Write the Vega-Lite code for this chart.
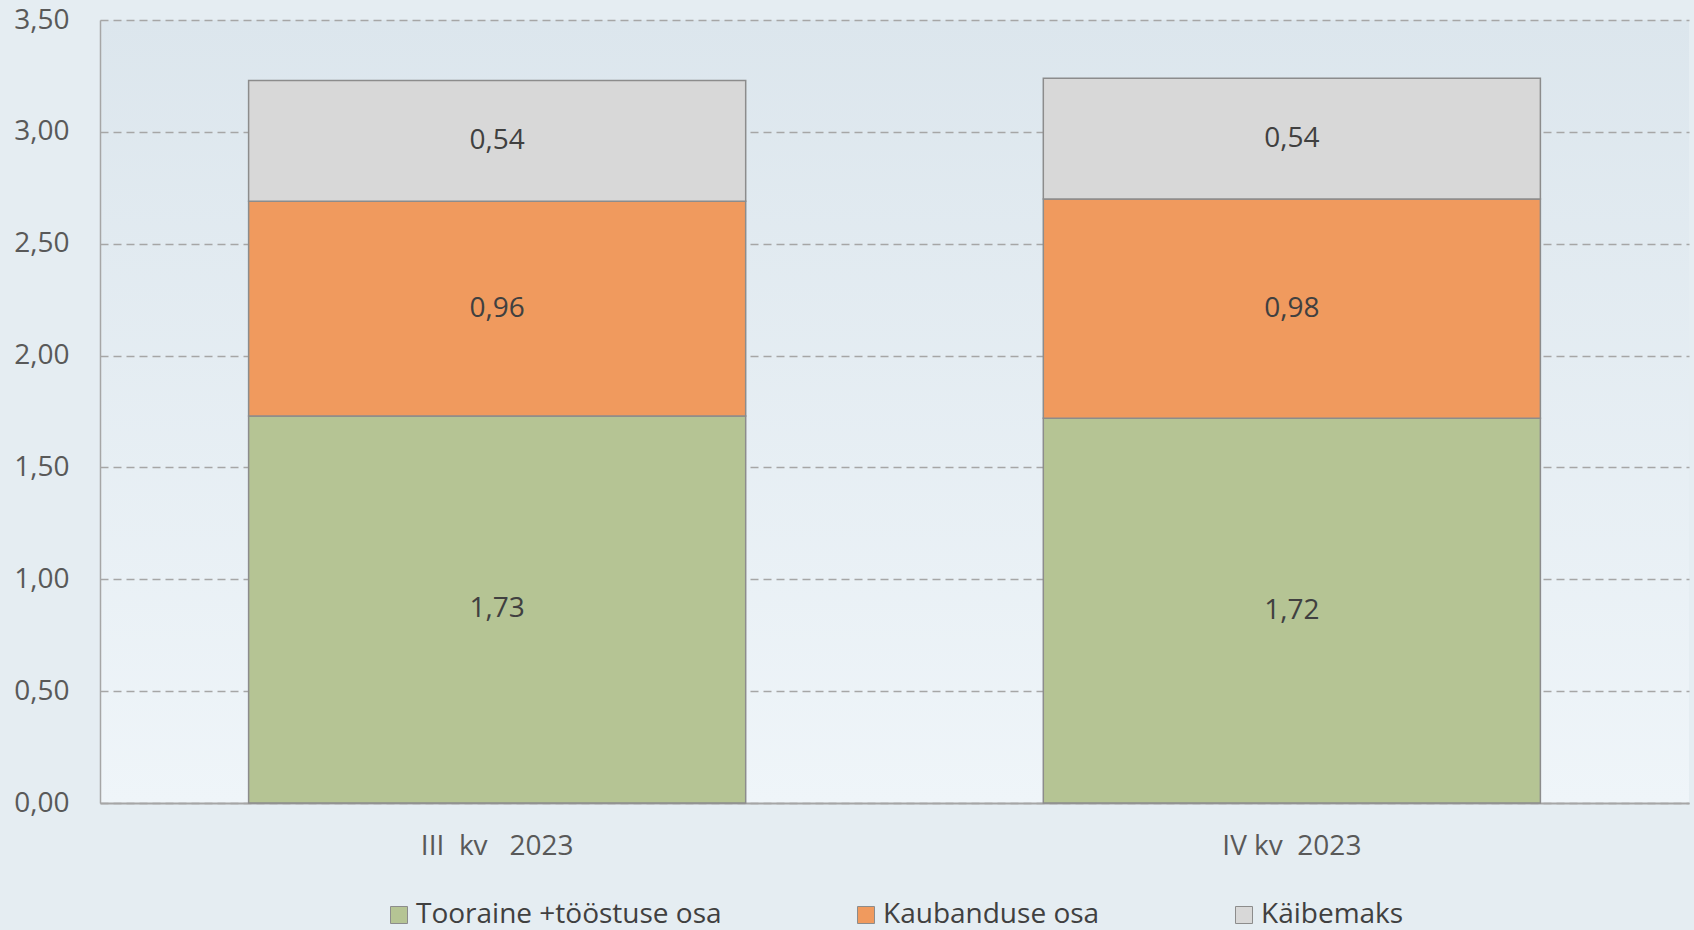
{
  "$schema": "https://vega.github.io/schema/vega-lite/v6.json",
  "width": 1589,
  "height": 783,
  "autosize": {"type": "none"},
  "padding": {"left": 100, "top": 20, "right": 5, "bottom": 127},
  "background": "#e5edf2",
  "config": {
    "locale": {"number": {"decimal": ",", "thousands": " ", "grouping": [3], "currency": ["", " €"]}},
    "view": {"stroke": null, "fill": {"gradient": "linear", "x1": 0, "y1": 0, "x2": 0, "y2": 1, "stops": [{"offset": 0, "color": "#dce6ed"}, {"offset": 1, "color": "#eff5f9"}]}},
    "font": "Open Sans",
    "legend": {"layout": {"bottom": {"anchor": "middle"}}}
  },
  "data": {
    "values": [
      {"quarter": "III\u00a0\u00a0kv\u00a0\u00a0\u00a02023", "series": "Tooraine +tööstuse osa", "ord": 1, "value": 1.73},
      {"quarter": "III\u00a0\u00a0kv\u00a0\u00a0\u00a02023", "series": "Kaubanduse osa", "ord": 2, "value": 0.96},
      {"quarter": "III\u00a0\u00a0kv\u00a0\u00a0\u00a02023", "series": "Käibemaks", "ord": 3, "value": 0.54},
      {"quarter": "IV kv\u00a0\u00a02023", "series": "Tooraine +tööstuse osa", "ord": 1, "value": 1.72},
      {"quarter": "IV kv\u00a0\u00a02023", "series": "Kaubanduse osa", "ord": 2, "value": 0.98},
      {"quarter": "IV kv\u00a0\u00a02023", "series": "Käibemaks", "ord": 3, "value": 0.54}
    ]
  },
  "transform": [
    {"stack": "value", "groupby": ["quarter"], "sort": [{"field": "ord", "order": "ascending"}], "as": ["y0", "y1"]}
  ],
  "layer": [
    {
      "mark": {"type": "bar", "stroke": "#8c8c8c", "strokeWidth": 1.5},
      "encoding": {
        "x": {
          "field": "quarter", "type": "nominal", "sort": null,
          "scale": {"paddingInner": 0.3745, "paddingOuter": 0.187},
          "axis": {"title": null, "labelAngle": 0, "ticks": false, "domainColor": "#a6a6a6", "domainWidth": 2, "labelFontSize": 28, "labelColor": "#595959", "labelPadding": 29}
        },
        "y": {
          "field": "y0", "type": "quantitative",
          "scale": {"domain": [0, 3.5], "nice": false},
          "axis": {"title": null, "values": [0, 0.5, 1, 1.5, 2, 2.5, 3, 3.5], "format": ".2f", "ticks": false, "labelPadding": 31, "labelFontSize": 28, "labelColor": "#595959", "domainColor": "#a6a6a6", "domainWidth": 1.5, "grid": true, "gridColor": "#a6a6a6", "gridDash": [8, 5], "gridWidth": 1.5}
        },
        "y2": {"field": "y1"},
        "color": {
          "field": "series", "type": "nominal",
          "scale": {"domain": ["Tooraine +tööstuse osa", "Kaubanduse osa", "Käibemaks"], "range": ["#b5c494", "#f09a5e", "#d8d8d8"]},
          "legend": {"title": null, "orient": "bottom", "direction": "horizontal", "offset": 41, "symbolType": "square", "symbolSize": 289, "symbolStrokeColor": "#8c8c8c", "symbolStrokeWidth": 1, "symbolOpacity": 1, "labelFontSize": 28, "labelColor": "#404040", "labelOffset": 3, "columnPadding": 130, "labelLimit": 500}
        }
      }
    },
    {
      "transform": [
        {"fold": ["y0", "y1"], "as": ["edge", "pos"]},
        {"aggregate": [{"op": "mean", "field": "pos", "as": "mid"}], "groupby": ["quarter", "series", "value"]}
      ],
      "mark": {"type": "text", "fontSize": 28, "color": "#404040"},
      "encoding": {
        "x": {"field": "quarter", "type": "nominal", "sort": null},
        "y": {"field": "mid", "type": "quantitative"},
        "text": {"field": "value", "type": "quantitative", "format": ".2f"}
      }
    }
  ]
}
